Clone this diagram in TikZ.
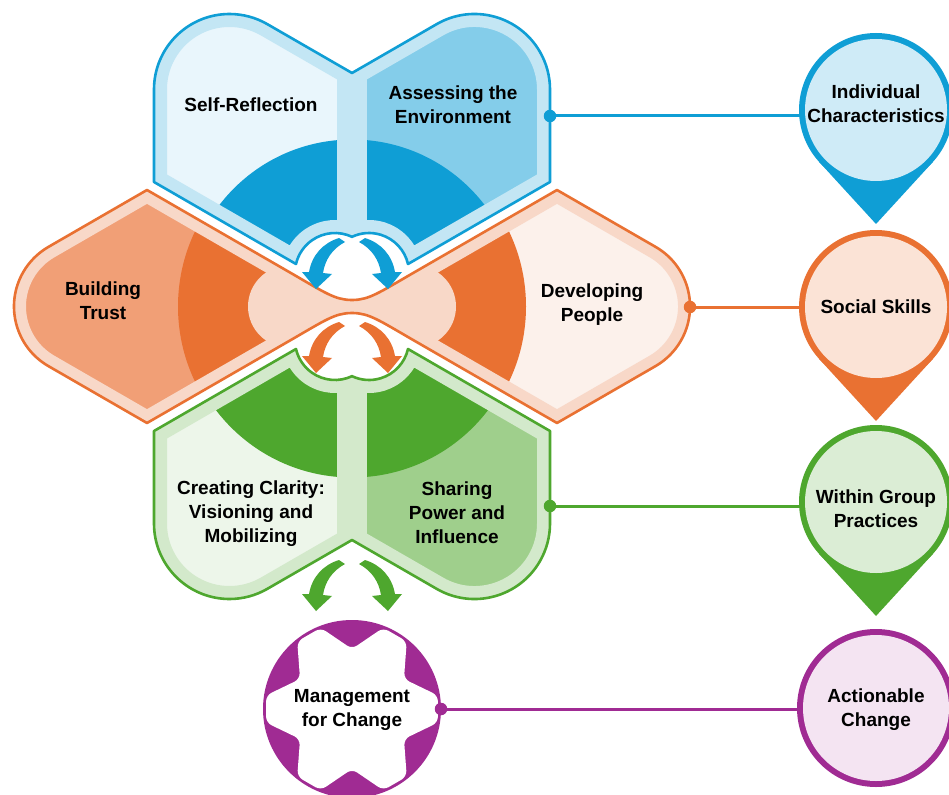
\documentclass[tikz,border=0pt]{standalone}
\usepackage{fontspec}
\setmainfont{Liberation Sans}
\definecolor{bD}{HTML}{0F9ED5}
\definecolor{bF}{HTML}{C3E6F4}
\definecolor{bL}{HTML}{E9F6FC}
\definecolor{bR}{HTML}{84CDEA}
\definecolor{bP}{HTML}{CFEBF7}
\definecolor{oD}{HTML}{E97132}
\definecolor{oF}{HTML}{F8D8C8}
\definecolor{oL}{HTML}{F19F76}
\definecolor{oR}{HTML}{FCF1EB}
\definecolor{oP}{HTML}{FBE3D6}
\definecolor{gD}{HTML}{4EA72E}
\definecolor{gF}{HTML}{D3E9CB}
\definecolor{gL}{HTML}{EDF6EA}
\definecolor{gR}{HTML}{9FCF8C}
\definecolor{gP}{HTML}{DBEDD5}
\definecolor{pD}{HTML}{A02B93}
\definecolor{pP}{HTML}{F4E4F2}
\tikzset{
  lbl/.style={font=\fontsize{19}{24}\selectfont\bfseries, align=center, inner sep=0pt, text=black},
  outline/.style={line width=2.6pt, line join=round},
  conn/.style={line width=3pt},
  dotnode/.style={circle, inner sep=0pt, minimum size=12.5pt},
}
\def\bluepath{(154,182) -- (154,89.5) arc[start angle=180,end angle=300,radius=75.5] -- (352,73) -- (436.75,24.1) arc[start angle=240,end angle=360,radius=75.5] -- (550,182) -- (408,264) arc[start angle=347,end angle=244.8,radius=40] arc[start angle=295.2,end angle=193,radius=40] -- cycle}
\def\orpath{(147,190) -- (290,272.5) .. controls (325,292.7) and (335,300) .. (352,300) .. controls (369,300) and (379,292.7) .. (414,272.5) -- (557,190) -- (655.6,246.9) arc[start angle=-60,end angle=60,radius=68.8] -- (557,423) -- (414,340.5) .. controls (379,320.3) and (369,313) .. (352,313) .. controls (335,313) and (325,320.3) .. (290,340.5) -- (147,423) -- (48.4,366.1) arc[start angle=120,end angle=240,radius=68.8] -- cycle}
\def\arr{(0,0) .. controls (-16,5) and (-27,17) .. (-30,34) -- (-37,34) -- (-23,51) -- (-7,36) -- (-16,35) .. controls (-14,22) and (-7,11) .. (6,4) -- cycle}
\newcommand\mypin[4]{%
  \fill[#3] (#1,#2) circle[radius=77];
  \fill[#3] (#1,#2) -- ++(-56.8,52) -- ++(56.8,62) -- ++(56.8,-62) -- cycle;
  \fill[#4] (#1,#2) circle[radius=71];}
\begin{document}
\begin{tikzpicture}[x=1pt,y=-1pt]
\useasboundingbox (0,0) rectangle (949,794);
\clip (0,0) rectangle (949,794);
\fill[white] (0,0) rectangle (949,794);

% ---------- blue shape ----------
\fill[bF] \bluepath;
\begin{scope}
  \clip \bluepath;
  \fill[bL] (0,0) rectangle (352,400);
  \fill[bR] (352,0) rectangle (700,400);
  \fill[bD] (352,306.5) circle[radius=167];
  \fill[bF] (337,0) rectangle (367,400);
  \draw[bF, line width=26pt, line join=round] \bluepath;
\end{scope}
\draw[bD, outline] \bluepath;

% ---------- green shape (mirror of blue) ----------
\begin{scope}[shift={(0,613)}, yscale=-1]
  \fill[gF] \bluepath;
  \begin{scope}
    \clip \bluepath;
    \fill[gL] (0,0) rectangle (352,400);
    \fill[gR] (352,0) rectangle (700,400);
    \fill[gD] (352,306.5) circle[radius=171];
    \fill[gF] (337,0) rectangle (367,400);
    \draw[gF, line width=26pt, line join=round] \bluepath;
  \end{scope}
  \draw[gD, outline] \bluepath;
\end{scope}

% ---------- orange shape ----------
\fill[oF] \orpath;
\begin{scope}
  \clip \orpath;
  \fill[oL] (0,150) rectangle (352,460);
  \fill[oR] (352,150) rectangle (700,460);
  \fill[oD] (352,306.5) circle[radius=174];
  \fill[oF] (289,306.5) circle[radius=41];
  \fill[oF] (415,306.5) circle[radius=41];
  \fill[oF] (289,262) rectangle (415,351);
  \draw[oF, line width=24pt, line join=round] \orpath;
\end{scope}
\draw[oD, outline] \orpath;

% ---------- arrows ----------
\foreach \yy/\cc in {238/bD, 322/oD, 560/gD}{
  \fill[\cc, shift={(339,\yy)}] \arr;
  \fill[\cc, shift={(365,\yy)}, xscale=-1] \arr;
}

% ---------- purple circle ----------
\fill[pD] (352,709) circle[radius=89];
\fill[white, rounded corners=6pt, shift={(352,709)}]
  (-9:87) -- (9:87) -- (30:60) -- (51:87) -- (69:87) -- (90:60)
  -- (111:87) -- (129:87) -- (150:60) -- (171:87) -- (189:87) -- (210:60)
  -- (231:87) -- (249:87) -- (270:60) -- (291:87) -- (309:87) -- (330:60) -- cycle;

% ---------- connectors ----------
\coordinate (icw) at (805,116);
\coordinate (ssw) at (805,307);
\coordinate (wgw) at (805,506);
\coordinate (acw) at (805,709);
\coordinate (pb) at (550,116);
\coordinate (po) at (690,307);
\coordinate (pg) at (550,506);
\coordinate (pp) at (441,709);
\draw[bD, conn] (pb) -- (icw);
\draw[oD, conn] (po) -- (ssw);
\draw[gD, conn] (pg) -- (wgw);
\draw[pD, conn] (pp) -- (acw);
\node[dotnode, fill=bD] (dotb) at (pb) {};
\node[dotnode, fill=oD] (doto) at (po) {};
\node[dotnode, fill=gD] (dotg) at (pg) {};
\node[dotnode, fill=pD] (dotp) at (pp) {};

% ---------- right circles ----------
\mypin{876}{110}{bD}{bP}
\mypin{876}{307}{oD}{oP}
\mypin{876}{502}{gD}{gP}
\fill[pD] (876,708) circle[radius=79];
\fill[pP] (876,708) circle[radius=73];

% ---------- labels ----------
\node[lbl] (sr) at (251,105) {Self-Reflection};
\node[lbl] (ae) at (453,105) {Assessing the\\Environment};
\node[lbl] (bt) at (103,301) {Building\\Trust};
\node[lbl] (dp) at (592,305) {Developing\\People};
\node[lbl] (cc) at (251,514) {Creating Clarity:\\Visioning and\\Mobilizing};
\node[lbl] (sp) at (457,513) {Sharing\\Power and\\Influence};
\node[lbl] (mc) at (352,710) {Management\\for Change};
\node[lbl] (ic) at (876,104) {Individual\\Characteristics};
\node[lbl] (ss) at (876,307) {Social Skills};
\node[lbl] (wg) at (876,509) {Within Group\\Practices};
\node[lbl] (ac) at (876,710) {Actionable\\Change};
\end{tikzpicture}
\end{document}
